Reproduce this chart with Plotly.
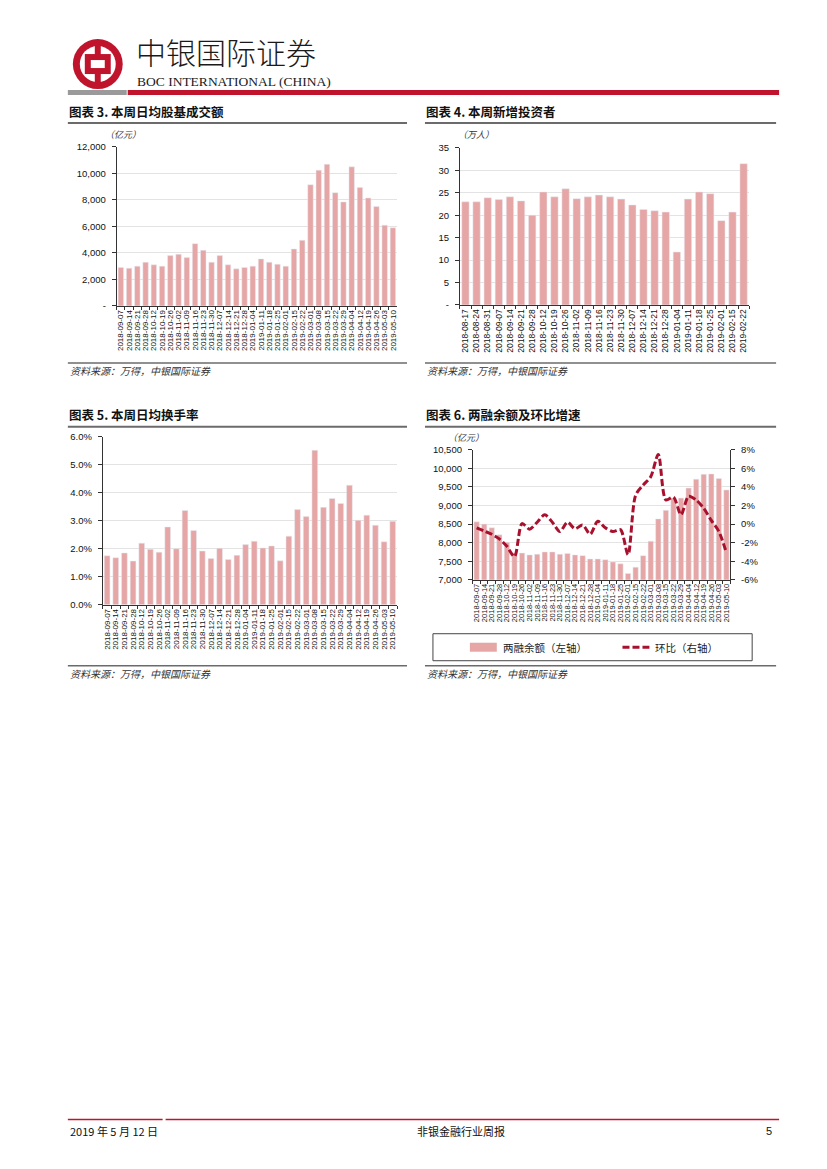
import plotly.graph_objects as go

# page is 827x1169; the html body has an 8px margin, so the figure is 16px smaller
PAGE_OFF = 8
W, H = 827 - 2 * PAGE_OFF, 1169 - 2 * PAGE_OFF
# small empirical vertical correction of the photographed page
YA, YB = 0.991, 5.0

# ---------------- data ----------------
dates_34 = ["2018-09-07", "2018-09-14", "2018-09-21", "2018-09-28", "2018-10-12", "2018-10-19",
            "2018-10-26", "2018-11-02", "2018-11-09", "2018-11-16", "2018-11-23", "2018-11-30",
            "2018-12-07", "2018-12-14", "2018-12-21", "2018-12-28", "2019-01-04", "2019-01-11",
            "2019-01-18", "2019-01-25", "2019-02-01", "2019-02-15", "2019-02-22", "2019-03-01",
            "2019-03-08", "2019-03-15", "2019-03-22", "2019-03-29", "2019-04-04", "2019-04-12",
            "2019-04-19", "2019-04-26", "2019-05-03", "2019-05-10"]

turnover_value = [2900, 2850, 3000, 3300, 3100, 3000, 3800, 3900, 3650, 4700, 4200, 3300,
                  3800, 3100, 2800, 2900, 3000, 3550, 3300, 3150, 3000, 4300, 4950, 9150,
                  10250, 10700, 8550, 7850, 10500, 8950, 8150, 7500, 6100, 5900]

dates_26 = ["2018-08-17", "2018-08-24", "2018-08-31", "2018-09-07", "2018-09-14", "2018-09-21",
            "2018-09-28", "2018-10-12", "2018-10-19", "2018-10-26", "2018-11-02", "2018-11-09",
            "2018-11-16", "2018-11-23", "2018-11-30", "2018-12-07", "2018-12-14", "2018-12-21",
            "2018-12-28", "2019-01-04", "2019-01-11", "2019-01-18", "2019-01-25", "2019-02-01",
            "2019-02-15", "2019-02-22"]
new_investors = [23.0, 23.0, 23.9, 23.5, 24.1, 23.2, 20.0, 25.2, 24.1, 25.9, 23.7, 24.1, 24.5,
                 24.1, 23.6, 22.3, 21.3, 21.0, 20.7, 11.8, 23.6, 25.2, 24.8, 18.8, 20.7, 31.5]

turnover_rate = [1.75, 1.68, 1.85, 1.56, 2.20, 1.98, 1.88, 2.78, 2.00, 3.37, 2.65, 1.92,
                 1.65, 2.02, 1.62, 1.77, 2.15, 2.27, 2.03, 2.10, 1.57, 2.45, 3.40, 3.15,
                 5.52, 3.48, 3.80, 3.62, 4.27, 3.02, 3.20, 2.84, 2.25, 2.98]

margin_balance = [8560, 8500, 8400, 8210, 8010, 7720, 7720, 7670, 7690, 7750, 7750, 7690,
                  7710, 7670, 7650, 7560, 7560, 7540, 7480, 7430, 7170, 7340, 7650, 8040,
                  8640, 8870, 9200, 9200, 9470, 9710, 9840, 9850, 9730, 9420]
margin_wow = [-0.4, -0.75, -1.1, -1.6, -2.4, -3.5, 0.05, -0.55, 0.2, 1.0, 0.2, -0.8,
              0.2, -0.5, -0.1, -1.1, 0.3, -0.4, -0.8, -0.6, -3.3, 3.1, 4.2, 5.1,
              7.5, 2.6, 2.9, 1.0, 3.0, 2.6, 1.7, 0.4, -0.8, -3.1]

ticks3_vals = [0, 2000, 4000, 6000, 8000, 10000, 12000]
ticks3_text = ["-", "2,000", "4,000", "6,000", "8,000", "10,000", "12,000"]
ticks4_vals = [0, 5, 10, 15, 20, 25, 30, 35]
ticks4_text = ["-", "5", "10", "15", "20", "25", "30", "35"]
ticks5_vals = [0, 1, 2, 3, 4, 5, 6]
ticks5_text = ["0.0%", "1.0%", "2.0%", "3.0%", "4.0%", "5.0%", "6.0%"]
ticks6l_vals = [7000, 7500, 8000, 8500, 9000, 9500, 10000, 10500]
ticks6l_text = ["7,000", "7,500", "8,000", "8,500", "9,000", "9,500", "10,000", "10,500"]
ticks6r_vals = [-6, -4, -2, 0, 2, 4, 6, 8]
ticks6r_text = ["-6%", "-4%", "-2%", "0%", "2%", "4%", "6%", "8%"]

# ---------------- styles ----------------
BAR = "#E6A6A6"
LINE = "#A8112E"
RED = "#C0142D"
AX = "#333333"
GRID = "#E3E3E3"
NUM_FONT = "Liberation Sans, Arial, sans-serif"
CJK = "Noto Sans CJK SC, sans-serif"


def px(x):
    return (x - PAGE_OFF) / W


def py(y):
    y = (y - YB) / YA
    return 1 - (y - PAGE_OFF) / H


def xaxis(x0, x1, y_anchor, cats, size):
    return dict(domain=[px(x0), px(x1)], anchor=y_anchor, type="category",
                tickmode="array", tickvals=cats, ticktext=cats, tickangle=-90,
                tickfont=dict(family=NUM_FONT, size=size, color="#111"),
                showline=True, linecolor=AX, linewidth=1, ticks="outside",
                tickson="boundaries", ticklen=3, tickcolor=AX, showgrid=False,
                fixedrange=True)


def yaxis(y0, y1, x_anchor, rng, vals, text, side="left", grid=True):
    return dict(domain=[py(y1), py(y0)], anchor=x_anchor, range=rng,
                tickmode="array", tickvals=vals, ticktext=text, side=side,
                tickfont=dict(family=NUM_FONT, size=9.5, color="#111"),
                showline=True, linecolor=AX, linewidth=1, ticks="outside",
                ticklen=4, tickcolor=AX, showgrid=grid, gridcolor=GRID,
                gridwidth=1, zeroline=False, ticklabelstandoff=4, fixedrange=True)


fig = go.Figure()
fig.add_trace(go.Bar(x=dates_34, y=turnover_value, marker_color=BAR, width=0.66,
                     xaxis="x", yaxis="y", showlegend=False))
fig.add_trace(go.Bar(x=dates_26, y=new_investors, marker_color=BAR, width=0.66,
                     xaxis="x2", yaxis="y2", showlegend=False))
fig.add_trace(go.Bar(x=dates_34, y=turnover_rate, marker_color=BAR, width=0.66,
                     xaxis="x3", yaxis="y3", showlegend=False))
fig.add_trace(go.Bar(x=dates_34, y=margin_balance, marker_color=BAR, width=0.7,
                     xaxis="x4", yaxis="y4", showlegend=False, name="两融余额（左轴）"))
fig.add_trace(go.Scatter(x=dates_34, y=margin_wow, mode="lines",
                         line=dict(color=LINE, width=3, dash="7px,3px", shape="spline",
                                   smoothing=0.8),
                         xaxis="x4", yaxis="y5", showlegend=False, name="环比（右轴）"))

fig.update_layout(
    width=W, height=H, margin=dict(l=0, r=0, t=0, b=0),
    paper_bgcolor="white", plot_bgcolor="white",
    xaxis=xaxis(116, 397, "y", dates_34, 8),
    yaxis=yaxis(146, 305, "x", [0, 12000], ticks3_vals, ticks3_text),
    xaxis2=xaxis(460, 750, "y2", dates_26, 8.5),
    yaxis2=yaxis(147, 304, "x2", [0, 35], ticks4_vals, ticks4_text),
    xaxis3=xaxis(102, 397, "y3", dates_34, 8),
    yaxis3=yaxis(436, 604, "x3", [0, 6], ticks5_vals, ticks5_text),
    xaxis4=xaxis(473, 731, "y4", dates_34, 7.5),
    yaxis4=yaxis(449, 579, "x4", [7000, 10500], ticks6l_vals, ticks6l_text),
    yaxis5=dict(yaxis(449, 579, "x4", [-6, 8], ticks6r_vals, ticks6r_text, side="right",
                      grid=False), overlaying="y4"),
)

shapes = []
ann = []


def rect(x0, y0, x1, y1, color, line=None):
    shapes.append(dict(type="rect", xref="paper", yref="paper", x0=px(x0), x1=px(x1),
                       y0=py(y1), y1=py(y0), fillcolor=color,
                       line=dict(width=0) if line is None else line, layer="above"))


def hline(x0, x1, y, color, width, dash="solid"):
    shapes.append(dict(type="line", xref="paper", yref="paper", x0=px(x0), x1=px(x1),
                       y0=py(y), y1=py(y), line=dict(color=color, width=width, dash=dash),
                       layer="above"))


def text(x, y, s, size, family=CJK, color="#222", xanchor="left", italic=False, weight=None):
    f = dict(size=size, family=family, color=color, style="italic" if italic else "normal")
    if weight is not None:
        f["weight"] = weight
    ann.append(dict(x=px(x), y=py(y), xref="paper", yref="paper", text=s, showarrow=False,
                    xanchor=xanchor, yanchor="middle", font=f))


# logo
shapes.append(dict(type="circle", xref="paper", yref="paper", x0=px(72), x1=px(122),
                   y0=py(88), y1=py(38), fillcolor=RED, line=dict(width=0)))
shapes.append(dict(type="circle", xref="paper", yref="paper", x0=px(79), x1=px(115),
                   y0=py(81), y1=py(45), fillcolor="white", line=dict(width=0)))
rect(94, 44, 100, 82, RED)
rect(84, 53, 110, 73, RED)
rect(90, 59, 104, 67, "white")

text(133, 50, "中银国际证券", 30, family="Noto Sans CJK SC", color="#1a1a1a", weight=300)
text(134, 80, "BOC INTERNATIONAL (CHINA)", 13.5, family="Liberation Serif, serif",
     color="#1a1a1a")
rect(67, 89, 126, 94, "#9a9a9a")
rect(127, 89, 780, 94, RED)

# chart titles and rules
titles = [(67, 110, "图表 3. 本周日均股基成交额", 67, 407, 122),
          (425, 110, "图表 4. 本周新增投资者", 425, 777, 122),
          (67, 414, "图表 5. 本周日均换手率", 67, 407, 426),
          (425, 414, "图表 6. 两融余额及环比增速", 425, 777, 426)]
for x, y, s, l0, l1, ly in titles:
    text(x - 1, y, "<b>" + s + "</b>", 12.5, color="#111")
    hline(l0, l1, ly, "#6b6b6b", 2)

sources = [(67, 370, 67, 407, 362), (425, 370, 425, 777, 362),
           (67, 673, 67, 407, 665), (425, 673, 425, 777, 665)]
for x, y, l0, l1, ly in sources:
    hline(l0, l1, ly, "#6b6b6b", 1.5)
    text(x, y, "资料来源：万得，中银国际证券", 10, color="#333", italic=True)

# units
text(102, 133, "（亿元）", 9, color="#333", italic=True)
text(456, 133, "（万人）", 9, color="#333", italic=True)
text(446, 437, "（亿元）", 9, color="#333", italic=True)

# legend for chart 6
rect(433, 633, 753, 660, "rgba(0,0,0,0)", line=dict(color="#444", width=1))
rect(470, 642, 497, 651, BAR)
text(501, 646.5, "两融余额（左轴）", 10.5, color="#222")
hline(623, 650, 646.5, LINE, 3, dash="7px,3px")
text(654, 646.5, "环比（右轴）", 10.5, color="#222")

# footer
hline(67, 162, 1119, RED, 1.5)
hline(165, 780, 1119, RED, 1.5)
text(67, 1131, "2019 年 5 月 12 日", 11, family="Liberation Sans Narrow, " + CJK, color="#111")
text(461, 1131, "非银金融行业周报", 11, color="#111", xanchor="center")
text(775, 1131, "5", 11, family=NUM_FONT, color="#111", xanchor="right")

fig.update_layout(shapes=shapes, annotations=ann)
fig.write_html("out.html")
